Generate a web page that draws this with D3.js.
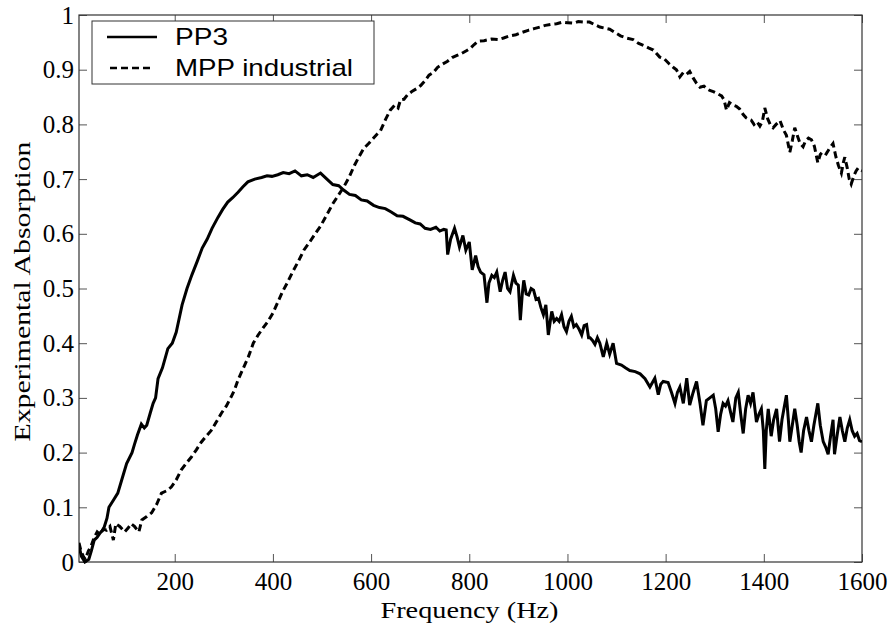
<!DOCTYPE html>
<html>
<head>
<meta charset="utf-8">
<script src="https://cdn.jsdelivr.net/npm/d3@7/dist/d3.min.js"></script>
<style>
  html, body { margin: 0; padding: 0; background: #fff; }
  svg { display: block; }
</style>
</head>
<body>
<svg id="chart" width="893" height="623"></svg>
<script>
// ---------- DATA ----------
const xTicks = [200, 400, 600, 800, 1000, 1200, 1400, 1600];
const yTicks = [0, 0.1, 0.2, 0.3, 0.4, 0.5, 0.6, 0.7, 0.8, 0.9, 1];
const seriesNames = ["PP3", "MPP industrial"];

const ppFreq = [5,10,17,25,30,36,42,48,55,62,66,75,84,92,102,113,118,124,132,138,143,150,156,161,166,175,186,195,203,215,225,235,246,256,266,276,288,298,308,318,329,339,349,363,377,388,398,410,421,433,445,458,470,482,497,510,522,534,544,556,568,580,592,605,617,629,641,653,665,680,690,700,710,721,732,740,748,753,756,762,770,775,780,787,793,800,806,813,818,823,830,836,840,846,851,856,863,868,873,878,883,890,895,900,904,908,911,916,921,926,931,936,941,946,951,956,961,965,968,973,978,983,988,993,998,1003,1008,1013,1018,1024,1029,1034,1039,1043,1046,1051,1056,1061,1066,1073,1080,1086,1093,1100,1110,1118,1127,1138,1148,1158,1168,1178,1185,1190,1195,1205,1212,1219,1224,1229,1236,1243,1249,1256,1263,1270,1276,1283,1290,1297,1302,1307,1312,1317,1322,1327,1332,1337,1343,1348,1353,1358,1363,1368,1373,1378,1385,1390,1395,1399,1402,1405,1409,1415,1420,1426,1429,1432,1437,1441,1446,1450,1453,1458,1463,1468,1472,1476,1481,1487,1492,1497,1502,1506,1510,1515,1521,1526,1531,1536,1541,1544,1549,1555,1560,1565,1570,1575,1580,1585,1590,1595,1600];
const ppAbs = [0.03,0.01,0.0,0.005,0.02,0.04,0.045,0.053,0.06,0.08,0.10,0.113,0.126,0.15,0.18,0.20,0.215,0.232,0.252,0.245,0.25,0.272,0.29,0.30,0.335,0.355,0.39,0.40,0.42,0.47,0.50,0.525,0.55,0.574,0.59,0.61,0.63,0.645,0.658,0.666,0.676,0.686,0.695,0.70,0.703,0.706,0.705,0.708,0.712,0.71,0.715,0.706,0.708,0.703,0.711,0.70,0.69,0.688,0.68,0.672,0.67,0.662,0.66,0.652,0.648,0.646,0.64,0.633,0.632,0.625,0.62,0.618,0.61,0.608,0.612,0.605,0.608,0.607,0.562,0.59,0.61,0.595,0.576,0.597,0.57,0.585,0.534,0.56,0.54,0.53,0.525,0.474,0.51,0.524,0.52,0.53,0.494,0.515,0.53,0.50,0.494,0.524,0.51,0.506,0.442,0.49,0.515,0.49,0.488,0.50,0.497,0.48,0.482,0.465,0.452,0.47,0.415,0.44,0.458,0.44,0.445,0.44,0.452,0.43,0.421,0.44,0.449,0.43,0.434,0.425,0.415,0.432,0.434,0.41,0.41,0.405,0.398,0.41,0.40,0.375,0.40,0.38,0.40,0.363,0.36,0.355,0.35,0.348,0.344,0.335,0.32,0.336,0.306,0.325,0.33,0.328,0.31,0.29,0.31,0.32,0.29,0.336,0.287,0.31,0.33,0.29,0.25,0.295,0.30,0.305,0.28,0.238,0.27,0.29,0.285,0.295,0.275,0.256,0.30,0.31,0.27,0.235,0.28,0.305,0.29,0.31,0.256,0.27,0.28,0.24,0.17,0.24,0.28,0.23,0.26,0.28,0.25,0.22,0.26,0.28,0.305,0.26,0.22,0.25,0.28,0.25,0.22,0.20,0.24,0.265,0.24,0.22,0.25,0.27,0.29,0.25,0.22,0.21,0.197,0.23,0.26,0.197,0.23,0.265,0.24,0.22,0.245,0.26,0.24,0.23,0.235,0.222,0.22];

const mppFreq = [5,9,14,18,24,30,36,42,48,54,61,68,75,80,88,98,105,111,118,127,133,143,153,163,173,183,193,203,213,223,234,244,254,264,274,284,295,305,315,322,329,340,350,360,370,380,390,400,410,420,429,440,452,463,475,486,497,510,522,533,544,556,566,576,585,595,605,612,619,625,630,639,648,655,660,667,675,683,692,701,710,718,727,735,745,755,765,775,785,795,802,810,818,830,845,859,870,883,895,907,920,932,944,955,967,978,990,1000,1012,1022,1033,1045,1056,1066,1076,1086,1097,1108,1120,1134,1145,1156,1165,1175,1188,1197,1208,1216,1222,1229,1236,1243,1249,1256,1263,1270,1278,1284,1290,1297,1304,1314,1319,1324,1330,1338,1344,1351,1358,1364,1368,1374,1380,1386,1392,1397,1402,1408,1413,1419,1425,1433,1440,1446,1453,1458,1463,1468,1474,1480,1485,1491,1497,1503,1510,1515,1520,1527,1533,1541,1547,1552,1558,1562,1565,1570,1574,1578,1583,1588,1592,1595,1600];
const mppAbs = [0.035,0.02,0.01,0.005,0.02,0.03,0.045,0.055,0.05,0.06,0.058,0.065,0.04,0.07,0.065,0.055,0.062,0.07,0.065,0.055,0.077,0.083,0.09,0.105,0.126,0.13,0.137,0.15,0.168,0.18,0.192,0.205,0.219,0.23,0.24,0.255,0.272,0.285,0.302,0.315,0.333,0.355,0.375,0.40,0.415,0.428,0.44,0.455,0.475,0.495,0.51,0.53,0.55,0.57,0.585,0.60,0.614,0.635,0.655,0.67,0.685,0.705,0.725,0.742,0.756,0.765,0.775,0.782,0.788,0.80,0.81,0.826,0.835,0.83,0.845,0.846,0.855,0.86,0.865,0.871,0.88,0.89,0.895,0.904,0.91,0.915,0.922,0.926,0.93,0.935,0.939,0.946,0.952,0.953,0.956,0.955,0.958,0.962,0.964,0.968,0.972,0.975,0.978,0.981,0.983,0.984,0.987,0.986,0.985,0.988,0.987,0.987,0.982,0.978,0.976,0.974,0.968,0.962,0.958,0.955,0.948,0.944,0.94,0.936,0.923,0.92,0.91,0.904,0.9,0.887,0.895,0.892,0.897,0.885,0.875,0.868,0.87,0.865,0.862,0.86,0.857,0.852,0.845,0.826,0.84,0.835,0.833,0.828,0.818,0.812,0.81,0.808,0.80,0.805,0.797,0.805,0.83,0.81,0.80,0.794,0.80,0.807,0.79,0.78,0.749,0.77,0.794,0.78,0.765,0.759,0.77,0.775,0.772,0.76,0.73,0.745,0.75,0.746,0.755,0.765,0.74,0.725,0.711,0.73,0.74,0.72,0.70,0.691,0.705,0.715,0.72,0.717,0.715];

// ---------- LAYOUT ----------
const svg = d3.select("#chart");
const L = 79, R = 862, T = 15, B = 562;
const x = d3.scaleLinear().domain([5, 1600]).range([L, R]);
const y = d3.scaleLinear().domain([0, 1]).range([B, T]);
const serif = "'Liberation Serif', 'Times New Roman', Times, serif";
const sans = "'Liberation Sans', Arial, Helvetica, sans-serif";
const axisColor = "#333";

// axes
const fmtY = d => (d === 0 ? "0" : d === 1 ? "1" : d3.format(".1f")(d));
const gB = svg.append("g").attr("transform", `translate(0,${B})`)
  .call(d3.axisBottom(x).tickValues(xTicks).tickSizeInner(-8).tickSizeOuter(0).tickPadding(10).tickFormat(d3.format("d")));
const gL = svg.append("g").attr("transform", `translate(${L},0)`)
  .call(d3.axisLeft(y).tickValues(yTicks).tickSizeInner(-8).tickSizeOuter(0).tickPadding(5).tickFormat(fmtY));
const gT = svg.append("g").attr("transform", `translate(0,${T})`)
  .call(d3.axisTop(x).tickValues(xTicks).tickSizeInner(-8).tickSizeOuter(0).tickFormat(""));
const gR = svg.append("g").attr("transform", `translate(${R},0)`)
  .call(d3.axisRight(y).tickValues(yTicks).tickSizeInner(-8).tickSizeOuter(0).tickFormat(""));

[gB, gL, gT, gR].forEach(g => {
  g.select(".domain").remove();
  g.selectAll(".tick line").attr("stroke", "#555").attr("stroke-width", 1);
  g.selectAll(".tick text").attr("fill", "#000").style("font-family", serif).style("font-size", "25px");
});

// box
svg.append("rect").attr("x", L).attr("y", T).attr("width", R - L).attr("height", B - T)
  .attr("fill", "none").attr("stroke", axisColor).attr("stroke-width", 1.2);

// lines
svg.append("clipPath").attr("id", "plotclip").append("rect")
  .attr("x", L).attr("y", T - 2).attr("width", R - L).attr("height", B - T + 4);

const ppData = ppFreq.map((f, i) => [f, ppAbs[i]]);
const mppData = mppFreq.map((f, i) => [f, mppAbs[i]]);
const line = d3.line().x(d => x(d[0])).y(d => y(d[1]));

svg.append("path").datum(mppData).attr("d", line).attr("clip-path", "url(#plotclip)")
  .attr("fill", "none").attr("stroke", "#000").attr("stroke-width", 3)
  .attr("stroke-dasharray", "7,4").attr("stroke-linejoin", "miter");
svg.append("path").datum(ppData).attr("d", line).attr("clip-path", "url(#plotclip)")
  .attr("fill", "none").attr("stroke", "#000").attr("stroke-width", 3)
  .attr("stroke-linejoin", "miter");

// axis titles
svg.append("text").attr("x", (L + R) / 2 - 1).attr("y", 618).attr("text-anchor", "middle")
  .style("font-family", serif).style("font-size", "24px")
  .attr("textLength", 178).attr("lengthAdjust", "spacingAndGlyphs")
  .text("Frequency (Hz)");
svg.append("text").attr("transform", `translate(30,${(T + B) / 2 + 3}) rotate(-90)`)
  .attr("text-anchor", "middle")
  .style("font-family", serif).style("font-size", "23px")
  .attr("textLength", 300).attr("lengthAdjust", "spacingAndGlyphs")
  .text("Experimental Absorption");

// legend
const lg = svg.append("g");
lg.append("rect").attr("x", 92).attr("y", 21).attr("width", 282).attr("height", 63)
  .attr("fill", "#fff").attr("stroke", axisColor).attr("stroke-width", 1);
lg.append("line").attr("x1", 107).attr("x2", 157).attr("y1", 37).attr("y2", 37)
  .attr("stroke", "#000").attr("stroke-width", 2.7);
lg.append("line").attr("x1", 110).attr("x2", 154).attr("y1", 68).attr("y2", 68)
  .attr("stroke", "#000").attr("stroke-width", 2.7).attr("stroke-dasharray", "7,4");
lg.append("text").attr("x", 175).attr("y", 45).style("font-family", sans).style("font-size", "24px")
  .attr("textLength", 53).attr("lengthAdjust", "spacingAndGlyphs").text(seriesNames[0]);
lg.append("text").attr("x", 175).attr("y", 76).style("font-family", sans).style("font-size", "24px")
  .attr("textLength", 178).attr("lengthAdjust", "spacingAndGlyphs").text(seriesNames[1]);
</script>
</body>
</html>
